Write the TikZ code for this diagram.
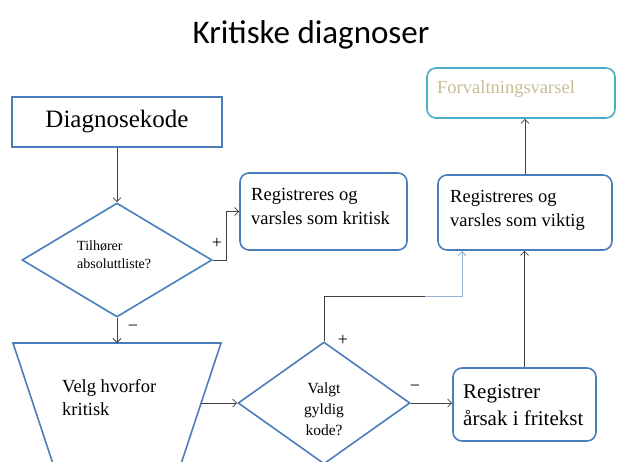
\documentclass[tikz,border=0pt]{standalone}
\usepackage{fontspec}
\setmainfont{Liberation Serif}
\newfontfamily\titlefont{Carlito}
\usetikzlibrary{shapes.geometric,arrows.meta}
\definecolor{boxblue}{HTML}{4A7EBB}
\definecolor{lightconn}{HTML}{95B3D7}
\definecolor{fvteal}{HTML}{4BACC6}
\definecolor{fvtext}{HTML}{C4BD97}
\definecolor{connc}{HTML}{404040}
\begin{document}
\begin{tikzpicture}[x=1pt,y=-1pt,
  shapeblue/.style={draw=boxblue, line width=1.6pt},
  rbox/.style={shapeblue, rounded corners=9pt, inner sep=0pt},
  diam/.style={shapeblue, diamond, inner sep=0pt},
  conn/.style={draw=connc, line width=0.8pt},
  arr/.style={conn, -{Straight Barb[length=4pt,width=8pt]}},
  lbl/.style={inner sep=0pt, anchor=base west, align=left},
  sign/.style={inner sep=0pt, font=\fontsize{18}{18}\selectfont},
]
\useasboundingbox (0,0) rectangle (617,461);
\clip (0,0) rectangle (617,461);

% title
\node[font=\titlefont\fontsize{33}{40}\selectfont, anchor=base, inner sep=0pt] (title) at (311,43) {Kritiske diagnoser};

% boxes
\node[shapeblue, minimum width=210pt, minimum height=50pt, inner sep=0pt, font=\fontsize{25}{30}\selectfont] (dk) at (117,122) {Diagnosekode};

\node[rbox, minimum width=167pt, minimum height=77pt] (kr) at (323.5,211.5) {};
\node[lbl, font=\fontsize{18.5}{24}\selectfont] (krt) at (251,224) {Registreres og\\varsles som kritisk};

\node[rbox, minimum width=174pt, minimum height=75pt] (vk) at (525,212.5) {};
\node[lbl, font=\fontsize{18.5}{24}\selectfont] (vkt) at (450,226) {Registreres og\\varsles som viktig};

\node[rbox, draw=fvteal, minimum width=188pt, minimum height=50pt] (fv) at (521,93) {};
\node[lbl, text=fvtext, font=\fontsize{18.5}{22}\selectfont] (fvt) at (437,93) {Forvaltningsvarsel};

\node[rbox, minimum width=143pt, minimum height=73pt] (rg) at (524.5,404.5) {};
\node[lbl, font=\fontsize{21}{27}\selectfont] (rgt) at (463,425) {Registrer\\årsak i fritekst};

% decisions
\node[diam, minimum width=190pt, minimum height=114pt] (d1) at (117,260) {};
\node[lbl, font=\fontsize{14}{18}\selectfont] (d1t) at (77,268) {Tilhører\\absoluttliste?};

\node[diam, minimum width=172pt, minimum height=122pt] (d2) at (324,403) {};
\node[inner sep=0pt, align=center, anchor=base, font=\fontsize{15.5}{21}\selectfont] (d2t) at (324,435) {Valgt\\gyldig\\kode?};

% trapezoid
\draw[shapeblue] (13,343) -- (221,343) -- (179,470) -- (55,470) -- cycle;
\coordinate (tzt) at (117,343);
\coordinate (tzr) at (201,403);
\node[lbl, font=\fontsize{18.5}{23}\selectfont] (tzt-text) at (62,415) {Velg hvorfor\\kritisk};

% connectors
\draw[arr] (dk.south) -- (d1.north);
\draw[arr] (d1.east) -- ++(14,0) |- (kr.west);
\node[sign] (p1) at (217,243) {+};
\draw[arr] (d1.south) -- (tzt);
\node[sign] (m1) at (133,328) {−};
\draw[arr] (tzr) -- (d2.west);
\coordinate (bend) at (425,296);
\coordinate (vkin) at (462,251);
\draw[conn] (d2.north) |- (bend);
\draw[draw=lightconn, line width=0.9pt, -{Straight Barb[length=4pt,width=8pt]}] (bend) -| (vkin);
\node[sign] (p2) at (343,340) {+};
\draw[arr] (d2.east) -- (d2.east -| rg.west);
\node[sign] (m2) at (415,388) {−};
\draw[arr] (rg.north) -- (rg.north |- vk.south);
\draw[arr] (vk.north) -- (vk.north |- fv.south);
\end{tikzpicture}
\end{document}
